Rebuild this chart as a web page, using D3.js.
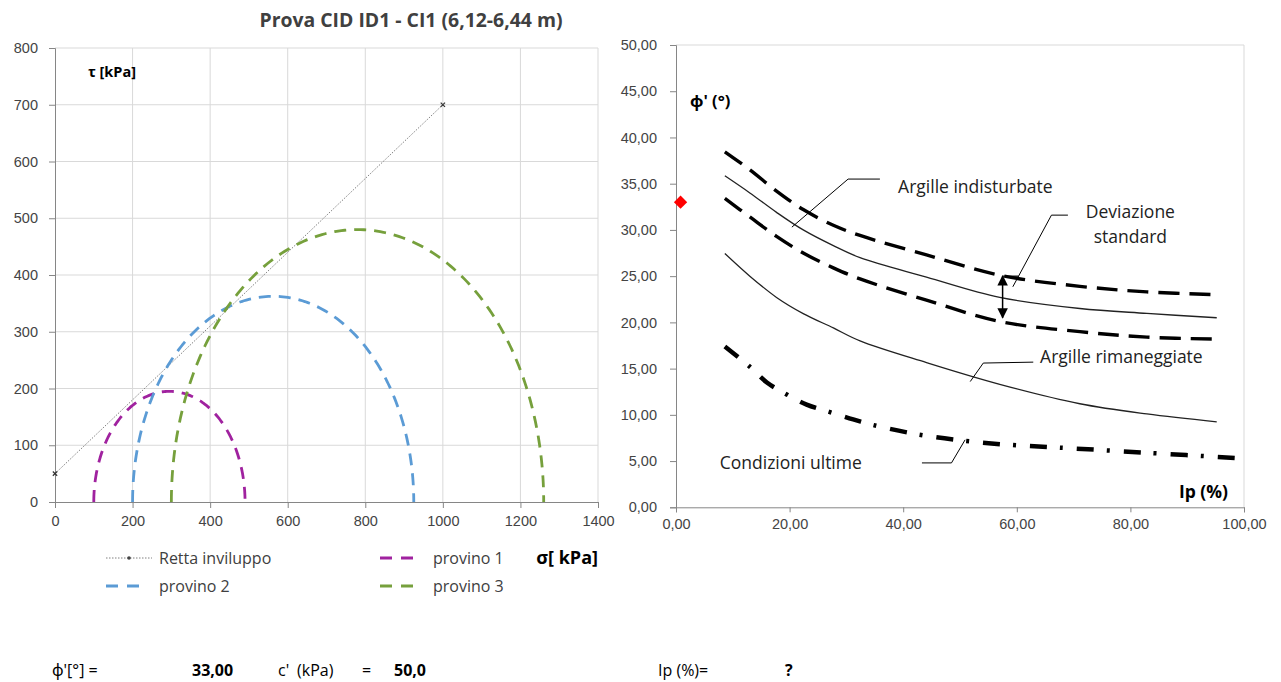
<!DOCTYPE html>
<html>
<head>
<meta charset="utf-8">
<script src="https://cdn.jsdelivr.net/npm/d3@7"></script>
<style>
  body { margin: 0; background: #fff; }
  svg text { font-family: "Open Sans", "Noto Sans", sans-serif; fill: #000; }
  .tick-label { font-family: "Liberation Sans", Arial, sans-serif !important; font-size: 14.5px; fill: #444 !important; }
</style>
</head>
<body>
<svg id="chart" width="1281" height="682"></svg>
<script>
// Mohr circles (left chart)
const provini = ['provino 1', 'provino 2', 'provino 3'];
const sigma3 = [100, 200, 300];
const sigma1 = [490, 925, 1260];
const envSigma = [0, 1000];
const envTau = [50, 700];
const phiDeg = 33.00;
const cohesion = 50.0;
const sigmaTicks = [0, 200, 400, 600, 800, 1000, 1200, 1400];
const tauTicks = [0, 100, 200, 300, 400, 500, 600, 700, 800];

// phi' vs Ip correlation (right chart)
const ipCurve = [8.6, 13, 17.7, 22.4, 27.7, 32.4, 44.1, 57, 71.1, 82.9, 95.2];
const phiUpperSD = [38.45, 36.5, 34.2, 32.2, 30.5, 29.4, 27.3, 25.1, 23.9, 23.3, 23.0];
const phiUndisturbed = [35.85, 34.0, 31.9, 30.0, 28.3, 27.0, 24.9, 22.7, 21.5, 20.97, 20.5];
const phiLowerSD = [33.4, 31.4, 29.3, 27.5, 25.9, 24.7, 22.4, 20.1, 19.0, 18.4, 18.2];
const phiRemoulded = [27.45, 25.0, 22.7, 20.95, 19.4, 18.0, 15.65, 13.3, 11.2, 10.1, 9.25];
const ipUltimate = [8.6, 13, 16, 19.5, 23, 27.1, 31.2, 34.7, 42.4, 50.6, 58.8, 67.6, 82.9, 99.6];
const phiUltimate = [17.4, 15.2, 13.5, 12.2, 11.1, 10.3, 9.5, 8.9, 7.9, 7.2, 6.75, 6.45, 5.9, 5.3];
const sampleIp = [0.8];
const samplePhi = [33.0];
const ipTicks = [0, 20, 40, 60, 80, 100];
const phiTicks = [0, 5, 10, 15, 20, 25, 30, 35, 40, 45, 50];

const provinoColors = ['#a0229f', '#5b9bd5', '#76a03c'];
const fmt2 = v => v.toFixed(2).replace('.', ',');

const svg = d3.select('#chart');
svg.append('rect').attr('width', 1281).attr('height', 682).attr('fill', '#fff');

// ---------- Left chart ----------
const x1 = d3.scaleLinear().domain([0, 1400]).range([55, 598]);
const y1 = d3.scaleLinear().domain([0, 800]).range([502, 48]);
const left = svg.append('g');

// grid
left.selectAll('line.vgrid').data(sigmaTicks.slice(1)).join('line')
    .attr('x1', d => x1(d)).attr('x2', d => x1(d))
    .attr('y1', y1(0)).attr('y2', y1(800))
    .attr('stroke', '#d9d9d9').attr('stroke-width', 1);
left.selectAll('line.hgrid').data(tauTicks.slice(1)).join('line')
    .attr('x1', x1(0)).attr('x2', x1(1400))
    .attr('y1', d => y1(d)).attr('y2', d => y1(d))
    .attr('stroke', '#d9d9d9').attr('stroke-width', 1);

// axes
const xAxis1 = left.append('g').attr('transform', `translate(0,${y1(0)})`)
    .call(d3.axisBottom(x1).tickValues(sigmaTicks).tickFormat(d3.format('d')).tickSize(6).tickPadding(8));
const yAxis1 = left.append('g').attr('transform', `translate(${x1(0)},0)`)
    .call(d3.axisLeft(y1).tickValues(tauTicks).tickFormat(d3.format('d')).tickSize(6).tickPadding(11));
[xAxis1, yAxis1].forEach(a => {
    a.select('.domain').attr('stroke', '#868686');
    a.selectAll('.tick line').attr('stroke', '#868686');
    a.selectAll('.tick text').attr('class', 'tick-label');
});

// envelope
const envData = envSigma.map((s, i) => [s, envTau[i]]);
left.append('path')
    .attr('d', d3.line().x(d => x1(d[0])).y(d => y1(d[1]))(envData))
    .attr('fill', 'none').attr('stroke', '#808080').attr('stroke-width', 1)
    .attr('stroke-dasharray', '1.5,1.5');
left.selectAll('path.env-marker').data(envData).join('path')
    .attr('transform', d => `translate(${x1(d[0])},${y1(d[1])})`)
    .attr('d', d3.symbol(d3.symbolTimes, 14))
    .attr('fill', 'none').attr('stroke', '#333').attr('stroke-width', 1.2);

// Mohr semicircles
const arcLine = d3.line().x(d => x1(d[0])).y(d => y1(d[1]));
sigma3.forEach((s3, i) => {
    const c = (sigma1[i] + s3) / 2, r = (sigma1[i] - s3) / 2;
    const pts = d3.range(0, 181).map(a => {
        const t = Math.PI - a * Math.PI / 180;
        return [c + r * Math.cos(t), r * Math.sin(t)];
    });
    left.append('path').attr('d', arcLine(pts))
        .attr('fill', 'none').attr('stroke', provinoColors[i])
        .attr('stroke-width', 2.8).attr('stroke-dasharray', '12,8');
});

// labels
left.append('text').attr('x', 88).attr('y', 77)
    .style('font-size', '14.5px').style('font-weight', 'bold').text('τ [kPa]');
left.append('text').attr('x', 598).attr('y', 564).attr('text-anchor', 'end')
    .style('font-size', '18px').style('font-weight', 'bold').text('σ[ kPa]');

// legend
const legend = [
    { name: 'Retta inviluppo', x: 106, y: 558, env: true },
    { name: provini[0], x: 380, y: 558, color: provinoColors[0] },
    { name: provini[1], x: 106, y: 586, color: provinoColors[1] },
    { name: provini[2], x: 380, y: 586, color: provinoColors[2] }
];
legend.forEach(l => {
    const g = left.append('g');
    if (l.env) {
        g.append('line').attr('x1', l.x).attr('x2', l.x + 46).attr('y1', l.y).attr('y2', l.y)
            .attr('stroke', '#808080').attr('stroke-dasharray', '1.5,1.5');
        g.append('circle').attr('cx', l.x + 23).attr('cy', l.y).attr('r', 1.8).attr('fill', '#444');
    } else {
        g.append('line').attr('x1', l.x).attr('x2', l.x + 40).attr('y1', l.y).attr('y2', l.y)
            .attr('stroke', l.color).attr('stroke-width', 2.8).attr('stroke-dasharray', '12,9');
    }
    g.append('text').attr('x', l.x + 53).attr('y', l.y + 5.5)
        .style('font-size', '16px').style('fill', '#404040').text(l.name);
});

// title
svg.append('text').attr('x', 411).attr('y', 27).attr('text-anchor', 'middle')
    .style('font-size', '19.4px').style('font-weight', 'bold').style('fill', '#404040')
    .text('Prova CID ID1 - CI1 (6,12-6,44 m)');

// ---------- Right chart ----------
const x2 = d3.scaleLinear().domain([0, 100]).range([676, 1244]);
const y2 = d3.scaleLinear().domain([0, 50]).range([507.3, 45]);
const right = svg.append('g');

right.append('path')
    .attr('d', `M${x2(0)},${y2(50)}H${x2(100)}V${y2(0)}`)
    .attr('fill', 'none').attr('stroke', '#d9d9d9');

const xAxis2 = right.append('g').attr('transform', `translate(0,${y2(0)})`)
    .call(d3.axisBottom(x2).tickValues(ipTicks).tickFormat(fmt2).tickSize(5).tickPadding(6));
const yAxis2 = right.append('g').attr('transform', `translate(${x2(0)},0)`)
    .call(d3.axisLeft(y2).tickValues(phiTicks).tickFormat(fmt2).tickSize(6).tickPadding(13));
[xAxis2, yAxis2].forEach(a => {
    a.select('.domain').attr('stroke', '#868686');
    a.selectAll('.tick line').attr('stroke', '#868686');
    a.selectAll('.tick text').attr('class', 'tick-label');
});

const curve = d3.line().x(d => x2(d[0])).y(d => y2(d[1])).curve(d3.curveCatmullRom.alpha(0.5));
const zipIp = arr => ipCurve.map((ip, i) => [ip, arr[i]]);

right.append('path').attr('d', curve(zipIp(phiUpperSD)))
    .attr('fill', 'none').attr('stroke', '#000').attr('stroke-width', 3.4).attr('stroke-dasharray', '21,10');
right.append('path').attr('d', curve(zipIp(phiLowerSD)))
    .attr('fill', 'none').attr('stroke', '#000').attr('stroke-width', 3.4).attr('stroke-dasharray', '21,10');
right.append('path').attr('d', curve(zipIp(phiUndisturbed)))
    .attr('fill', 'none').attr('stroke', '#222').attr('stroke-width', 1.3);
right.append('path').attr('d', curve(zipIp(phiRemoulded)))
    .attr('fill', 'none').attr('stroke', '#222').attr('stroke-width', 1.3);
right.append('path').attr('d', curve(ipUltimate.map((ip, i) => [ip, phiUltimate[i]])))
    .attr('fill', 'none').attr('stroke', '#000').attr('stroke-width', 4.5)
    .attr('stroke-dasharray', '17,13,3,14');

// sample point
right.selectAll('path.sample').data(sampleIp).join('path')
    .attr('transform', (d, i) => `translate(${x2(d)},${y2(samplePhi[i])}) rotate(45)`)
    .attr('d', d3.symbol(d3.symbolSquare, 88)).attr('fill', '#ff0000');

// annotations (in data units)
const leader = pts => right.append('path')
    .attr('d', d3.line().x(d => x2(d[0])).y(d => y2(d[1]))(pts))
    .attr('fill', 'none').attr('stroke', '#000').attr('stroke-width', 1);
leader([[20.4, 30.3], [30.3, 35.5], [35.9, 35.5]]);
leader([[59.3, 23.85], [66.1, 31.6], [69, 31.6]]);
leader([[51.8, 13.6], [54.1, 15.6], [62.9, 15.7]]);
leader([[43.3, 4.8], [48.5, 4.8], [50.9, 7.3]]);

svg.append('defs').append('marker').attr('id', 'ah')
    .attr('viewBox', '0 0 10 10').attr('refX', 9).attr('refY', 5)
    .attr('markerWidth', 7).attr('markerHeight', 7).attr('orient', 'auto-start-reverse')
    .append('path').attr('d', 'M0,0L10,5L0,10Z').attr('fill', '#000');
right.append('line')
    .attr('x1', x2(57.5)).attr('x2', x2(57.5)).attr('y1', y2(20.5)).attr('y2', y2(25.0))
    .attr('stroke', '#000').attr('stroke-width', 1.5)
    .attr('marker-start', 'url(#ah)').attr('marker-end', 'url(#ah)');
right.append('line')
    .attr('x1', x2(57.5)).attr('x2', x2(60.3)).attr('y1', y2(25.0)).attr('y2', y2(25.0))
    .attr('stroke', '#000').attr('stroke-width', 1.2);

const note = (ip, phi, txt, anchor) => right.append('text')
    .attr('x', x2(ip)).attr('y', y2(phi)).attr('dy', '0.35em')
    .attr('text-anchor', anchor || 'start')
    .style('font-size', '17.5px').style('fill', '#222').text(txt);
note(39.1, 34.7, 'Argille indisturbate');
note(80.0, 31.9, 'Deviazione', 'middle');
note(80.0, 29.3, 'standard', 'middle');
note(64.1, 16.25, 'Argille rimaneggiate');
note(7.7, 4.8, 'Condizioni ultime');

right.append('text').attr('x', 690).attr('y', 107)
    .style('font-size', '16.5px').style('font-weight', 'bold').text("ϕ' (°)");
right.append('text').attr('x', 1228).attr('y', 498).attr('text-anchor', 'end')
    .style('font-size', '17.5px').style('font-weight', 'bold').text('Ip (%)');

// ---------- Bottom summary ----------
const bottom = svg.append('g').style('font-size', '16px');
const put = (x, txt, bold) => bottom.append('text').attr('x', x).attr('y', 676)
    .style('font-weight', bold ? 'bold' : 'normal').text(txt);
put(52, "ϕ'[°] =");
put(192, fmt2(phiDeg), true);
put(278, "c'");
put(297, '(kPa)');
put(362, '=');
put(394, cohesion.toFixed(1).replace('.', ','), true);
put(658, 'Ip (%)=');
put(785, '?', true);
</script>
</body>
</html>
